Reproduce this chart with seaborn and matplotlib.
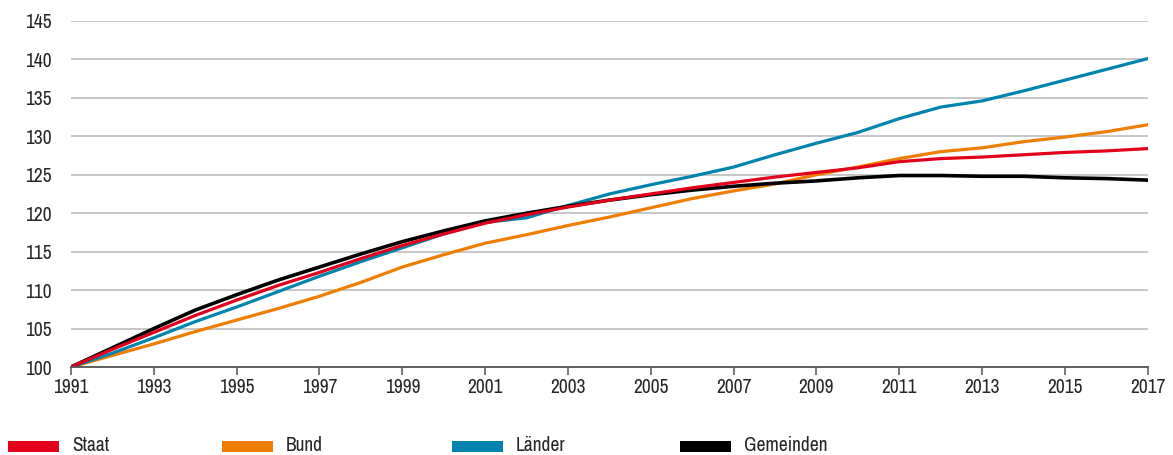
import numpy as np
import pandas as pd
import matplotlib
matplotlib.use("Agg")
import matplotlib.pyplot as plt
from matplotlib import font_manager
import seaborn as sns
from matplotlib.patches import Rectangle

# ---- data (index, 1991 = 100) ----
years = list(range(1991, 2018))
staat = [100.0, 102.3, 104.5, 106.7, 108.7, 110.6, 112.3, 114.1, 115.8, 117.3,
         118.7, 119.8, 120.8, 121.7, 122.5, 123.3, 124.0, 124.7, 125.3, 125.9,
         126.7, 127.1, 127.3, 127.6, 127.9, 128.1, 128.4]
bund = [100.0, 101.5, 103.0, 104.6, 106.1, 107.6, 109.2, 111.0, 113.0, 114.6,
        116.1, 117.2, 118.4, 119.5, 120.7, 121.9, 122.9, 123.8, 125.0, 126.0,
        127.1, 128.0, 128.5, 129.3, 129.9, 130.6, 131.5]
laender = [100.0, 101.8, 103.8, 105.9, 107.8, 109.8, 111.8, 113.7, 115.5, 117.3,
           118.8, 119.4, 121.0, 122.5, 123.7, 124.8, 126.0, 127.6, 129.1, 130.5,
           132.3, 133.8, 134.6, 135.9, 137.3, 138.7, 140.1]
gemeinden = [100.0, 102.5, 105.0, 107.4, 109.4, 111.3, 113.0, 114.7, 116.3, 117.7,
             119.0, 120.0, 120.9, 121.7, 122.4, 123.0, 123.5, 123.9, 124.2, 124.6,
             124.9, 124.9, 124.8, 124.8, 124.6, 124.5, 124.3]

series_names = ["Staat", "Bund", "Länder", "Gemeinden"]
series_colors = ["#e3001b", "#ef7d00", "#0083ad", "#000000"]

df = pd.DataFrame({"Jahr": years, "Staat": staat, "Bund": bund,
                   "Länder": laender, "Gemeinden": gemeinden})
df_long = df.melt(id_vars="Jahr", var_name="Reihe", value_name="Index")

# ---- style ----
sns.set_style("white")

# the original uses a condensed face; take one if the machine has it
narrow_names = [f.name for f in font_manager.fontManager.ttflist
                if "Narrow" in f.name or "Condensed" in f.name]
if narrow_names:
    plt.rcParams["font.family"] = [narrow_names[0], "DejaVu Sans"]
    tick_size, leg_size = 14, 14
else:
    plt.rcParams["font.family"] = ["Liberation Sans", "DejaVu Sans"]
    tick_size, leg_size = 13.5, 12.5

fig = plt.figure(figsize=(11.73, 4.55), dpi=100)
ax = fig.add_axes([0.0605, 0.1934, 0.918, 0.7606])

# Staat drawn last so it sits over the others like in the original
draw_order = ["Bund", "Länder", "Gemeinden", "Staat"]
for name in draw_order:
    sub = df_long[df_long["Reihe"] == name]
    sns.lineplot(data=sub, x="Jahr", y="Index", ax=ax,
                 color=series_colors[series_names.index(name)],
                 linewidth=2.6 if name == "Gemeinden" else 2.3,
                 legend=False)

ax.set_xlim(1991, 2017)
ax.set_ylim(100, 145)
ax.set_xticks(range(1991, 2018, 2))
ax.set_yticks(range(100, 146, 5))
ax.set_xlabel("")
ax.set_ylabel("")

ax.grid(axis="y", color="#bdbdbd", linewidth=1.2)
ax.set_axisbelow(True)
for side in ["top", "right", "left"]:
    ax.spines[side].set_visible(False)
ax.spines["bottom"].set_color("#555555")
ax.spines["bottom"].set_linewidth(1.3)
ax.spines["bottom"].set_zorder(5)

ax.tick_params(axis="x", length=6, width=1.1, color="#555555",
               labelsize=tick_size, pad=2, direction="out", bottom=True)
ax.tick_params(axis="y", length=0, labelsize=tick_size, pad=14)

# ---- legend below the plot ----
legend_x = [0.0068, 0.1893, 0.3853, 0.5797]
for name, color, lx in zip(series_names, series_colors, legend_x):
    fig.add_artist(Rectangle((lx, 0.0066), 0.0435, 0.024, transform=fig.transFigure,
                             facecolor=color, edgecolor="none"))
    fig.text(lx + 0.0545, 0.0205, name, fontsize=leg_size, va="center", ha="left")

fig.savefig("out.png", dpi=100)
